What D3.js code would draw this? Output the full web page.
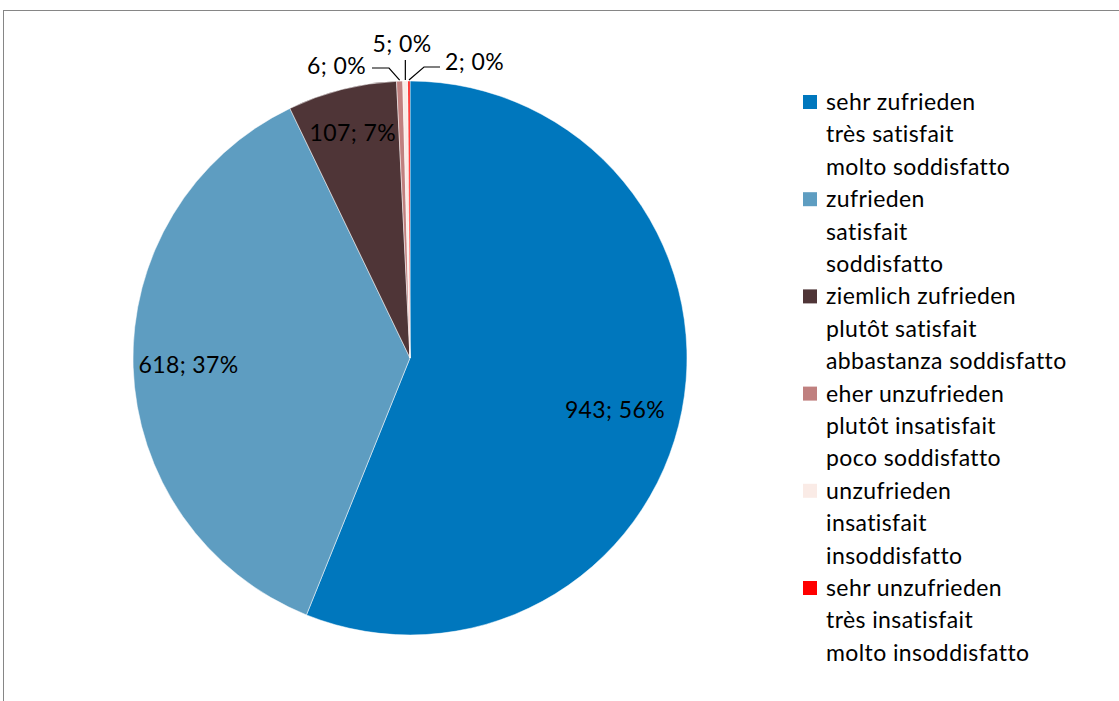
<!DOCTYPE html>
<html>
<head>
<meta charset="utf-8">
<script src="https://cdn.jsdelivr.net/npm/d3@7"></script>
<style>
  body { margin: 0; background: #fff; }
  svg { display: block; font-family: Lato, "Open Sans", sans-serif; }
</style>
</head>
<body>
<div id="chart"></div>
<script>
// chart data
var categories = [
  ["sehr zufrieden", "très satisfait", "molto soddisfatto"],
  ["zufrieden", "satisfait", "soddisfatto"],
  ["ziemlich zufrieden", "plutôt satisfait", "abbastanza soddisfatto"],
  ["eher unzufrieden", "plutôt insatisfait", "poco soddisfatto"],
  ["unzufrieden", "insatisfait", "insoddisfatto"],
  ["sehr unzufrieden", "très insatisfait", "molto insoddisfatto"]
];
var counts = [943, 618, 107, 6, 5, 2];
var percentLabels = ["56%", "37%", "7%", "0%", "0%", "0%"];
var colors = ["#0077bd", "#5e9dc1", "#4f3537", "#c0807f", "#faebe6", "#ff0000"];

var svgWidth = 1119;
var svgHeight = 701;

var svg = d3.select("#chart")
  .append("svg")
  .attr("width", svgWidth)
  .attr("height", svgHeight);

// chart frame
svg.append("rect")
  .attr("x", 3.5)
  .attr("y", 10.5)
  .attr("width", 1130)
  .attr("height", 720)
  .attr("fill", "none")
  .attr("stroke", "#868686")
  .attr("stroke-width", 1);

var cx = 410, cy = 358, radius = 277;

var pie = d3.pie().sort(null).value(d => d);
var arcs = pie(counts);

var arc = d3.arc().innerRadius(0).outerRadius(radius);

var pieGroup = svg.append("g")
  .attr("transform", `translate(${cx}, ${cy})`);

pieGroup.selectAll("path")
  .data(arcs)
  .enter()
  .append("path")
  .attr("d", arc)
  .attr("fill", (d, i) => colors[i])
  .attr("stroke", "#fff")
  .attr("stroke-width", 0.5);

var fontSize = 23;
var spacing = "0.4px";

// labels inside the large slices
arcs.forEach((d, i) => {
  var text = counts[i] + "; " + percentLabels[i];
  if (i < 3) {
    var r = [0.74, 0.80, 0.84][i];
    var a = (d.startAngle + d.endAngle) / 2;
    var x = Math.sin(a) * radius * r;
    var y = -Math.cos(a) * radius * r;
    if (i === 0) { x = 205; y = 52; }
    pieGroup.append("text")
      .attr("x", x)
      .attr("y", y)
      .attr("dy", "0.35em")
      .attr("text-anchor", "middle")
      .attr("font-size", fontSize)
      .attr("letter-spacing", spacing)
      .attr("fill", "#000")
      .text(text);
  }
});

// small slices: leader lines
var mid = d => (d.startAngle + d.endAngle) / 2;
var edge = d => [Math.sin(mid(d)) * radius, -Math.cos(mid(d)) * radius];

var small = [
  { i: 3, pts: [[-38, -290], [-21, -290]], tx: -44, ty: -292, anchor: "end" },
  { i: 4, pts: [], tx: -8, ty: -314, anchor: "middle" },
  { i: 5, pts: [[30, -291], [14, -291]], tx: 35, ty: -296, anchor: "start" }
];

small.forEach(s => {
  var d = arcs[s.i];
  var e = edge(d);
  var pts;
  if (s.i === 4) {
    pts = [[e[0], e[1] - 1], [e[0], -298]];
  } else {
    pts = s.pts.concat([[e[0], e[1] - 1]]);
  }
  pieGroup.append("path")
    .attr("d", d3.line()(pts))
    .attr("fill", "none")
    .attr("stroke", "#000")
    .attr("stroke-width", 1.2);
  pieGroup.append("text")
    .attr("x", s.tx)
    .attr("y", s.ty)
    .attr("dy", "0.35em")
    .attr("text-anchor", s.anchor)
    .attr("font-size", fontSize)
    .attr("letter-spacing", spacing)
    .attr("fill", "#000")
    .text(counts[s.i] + "; " + percentLabels[s.i]);
});

// legend
var legendX = 803, legendY = 102, lineHeight = 32.4;

var legend = svg.append("g");

categories.forEach((lines, i) => {
  var y0 = legendY + i * 3 * lineHeight;
  legend.append("rect")
    .attr("x", legendX)
    .attr("y", y0 - 7)
    .attr("width", 14)
    .attr("height", 14)
    .attr("fill", colors[i]);
  lines.forEach((t, j) => {
    legend.append("text")
      .attr("x", legendX + 23)
      .attr("y", y0 + j * lineHeight)
      .attr("dy", "0.35em")
      .attr("font-size", fontSize)
      .attr("letter-spacing", spacing)
      .attr("fill", "#000")
      .text(t);
  });
});
</script>
</body>
</html>
